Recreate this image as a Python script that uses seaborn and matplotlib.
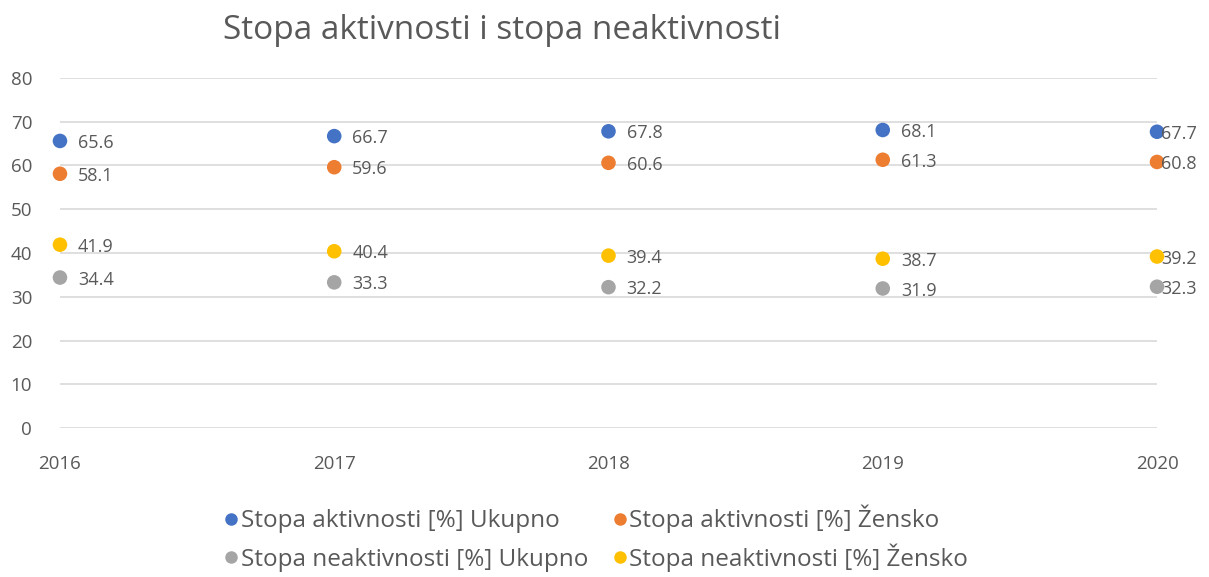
#!/usr/bin/env python3
import pandas as pd
import seaborn as sns
from matplotlib import pyplot as plt

years = [2016, 2017, 2018, 2019, 2020]
series_names = [
    "Stopa aktivnosti [%] Ukupno",
    "Stopa aktivnosti [%] Žensko",
    "Stopa neaktivnosti [%] Ukupno",
    "Stopa neaktivnosti [%] Žensko",
]
aktiv_ukupno = [65.6, 66.7, 67.8, 68.1, 67.7]
aktiv_zensko = [58.1, 59.6, 60.6, 61.3, 60.8]
neaktiv_ukupno = [34.4, 33.3, 32.2, 31.9, 32.3]
neaktiv_zensko = [41.9, 40.4, 39.4, 38.7, 39.2]
colors = ["#4472C4", "#ED7D31", "#A5A5A5", "#FFC000"]
yticks = [0, 10, 20, 30, 40, 50, 60, 70, 80]
title = "Stopa aktivnosti i stopa neaktivnosti"


def build_frame():
    values = [aktiv_ukupno, aktiv_zensko, neaktiv_ukupno, neaktiv_zensko]
    rows = []
    for name, vals in zip(series_names, values):
        for year, v in zip(years, vals):
            rows.append({"Godina": year, "Vrijednost": v, "Serija": name})
    return pd.DataFrame(rows)


def plot():
    df = build_frame()

    sns.set_theme(style="white")
    plt.rcParams["font.family"] = ["Open Sans", "DejaVu Sans"]
    text_color = "#595959"

    fig = plt.figure(figsize=(12.09, 5.77), dpi=100)
    ax = fig.add_axes([0.0496, 0.258, 0.9074, 0.607])

    palette = dict(zip(series_names, colors))
    sns.scatterplot(data=df, x="Godina", y="Vrijednost", hue="Serija", hue_order=series_names,
                    palette=palette, s=110, edgecolor="none", legend=False, ax=ax, clip_on=False, zorder=3)

    # last column labels sit tight against the points so they fit in the figure
    for _, row in df.iterrows():
        dx = 3 if row["Godina"] == years[-1] else 13
        ax.annotate(f"{row['Vrijednost']:.1f}", (row["Godina"], row["Vrijednost"]),
                    xytext=(dx, -1.5), textcoords="offset points", va="center", ha="left",
                    fontsize=13, color=text_color, zorder=4)

    ax.set_xlim(years[0], years[-1])
    ax.set_ylim(0, 80)
    ax.set_xticks(years)
    ax.set_xticklabels([str(y) for y in years])
    ax.set_yticks(yticks)
    ax.grid(axis="y", color="#D9D9D9", linewidth=1.2)
    ax.set_axisbelow(True)
    for spine in ax.spines.values():
        spine.set_visible(False)
    ax.tick_params(axis="both", length=0, labelsize=13.5, labelcolor=text_color)
    ax.tick_params(axis="y", pad=20)
    ax.tick_params(axis="x", pad=19)
    ax.set_xlabel("")
    ax.set_ylabel("")

    fig.text(0.415, 0.948, title, ha="center", va="center", fontsize=24, color=text_color)

    # one legend per entry so the two rows stay level (Ž makes some labels taller)
    anchors = [(0.183, 0.097), (0.5045, 0.1005), (0.183, 0.030), (0.5045, 0.0335)]
    for name, color, anchor in zip(series_names, colors, anchors):
        h = plt.Line2D([], [], marker="o", linestyle="none", markersize=9,
                       markerfacecolor=color, markeredgecolor="none", label=name)
        leg = fig.legend(handles=[h], loc="center left", bbox_to_anchor=anchor, frameon=False,
                         fontsize=17.5, handletextpad=0.0, handlelength=0.8, borderpad=0, borderaxespad=0)
        for t in leg.get_texts():
            t.set_color(text_color)

    fig.savefig("out.png", dpi=100)
    plt.close(fig)


def main():
    plot()


if __name__ == '__main__':
    main()
